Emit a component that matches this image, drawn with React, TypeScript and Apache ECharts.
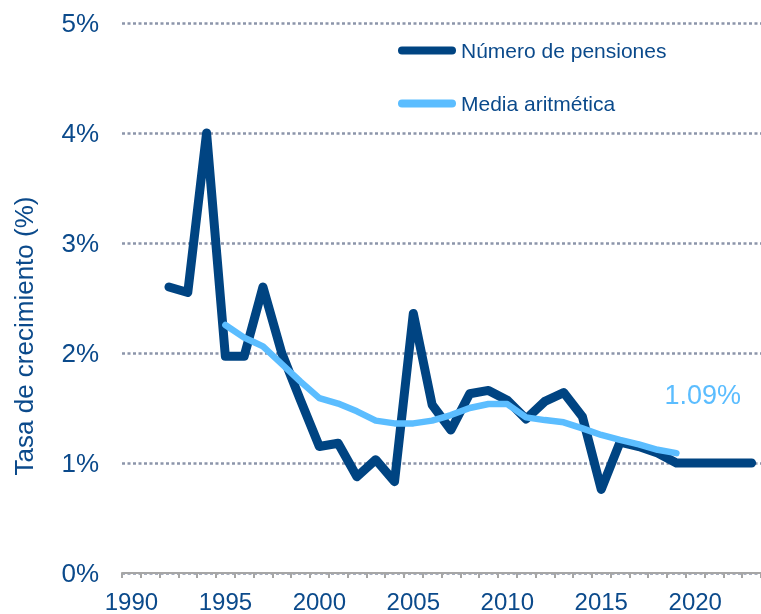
import React, { useEffect, useRef } from "react";
import * as echarts from "echarts";

const years: string[] = [];
for (let y = 1990; y <= 2023; y++) years.push(String(y));

const pensiones: (number | null)[] = [
  null, null, 2.6, 2.55, 4.0, 1.97, 1.97, 2.6, 2.0, 1.57,
  1.15, 1.18, 0.875, 1.03, 0.83, 2.36, 1.53, 1.3, 1.63, 1.66,
  1.57, 1.4, 1.56, 1.64, 1.42, 0.76, 1.19, 1.15, 1.09, 1.0,
  1.0, 1.0, 1.0, 1.0,
];

const media: (number | null)[] = [
  null, null, null, null, null, 2.255, 2.14, 2.06, 1.9, 1.74,
  1.59, 1.54, 1.47, 1.385, 1.36, 1.36, 1.385, 1.436, 1.5, 1.536,
  1.536, 1.415, 1.39, 1.37, 1.315, 1.255, 1.21, 1.17, 1.12, 1.09,
  null, null, null, null,
];

const yTicks = [0, 1, 2, 3, 4, 5];

const DARK = "#004482";
const LIGHT = "#5BBDFF";
const TEXT = "#0B4A8B";
const FONT = "'Liberation Sans', Arial, sans-serif";

export default function App() {
  const ref = useRef<HTMLDivElement>(null);
  useEffect(() => {
    if (!ref.current) return;
    const chart = echarts.init(ref.current, null, { renderer: "svg" });
    chart.setOption({
      animation: false,
      textStyle: { fontFamily: FONT },
      grid: { left: 122, top: 23, width: 640, bottom: 41, containLabel: false },
      legend: {
        orient: "vertical",
        left: 393,
        top: 35,
        itemWidth: 58,
        itemHeight: 8,
        itemGap: 32,
        icon: "path://M4,0 H54 A4,4 0 0 1 54,8 H4 A4,4 0 0 1 4,0 Z",
        textStyle: { color: TEXT, fontSize: 21, fontFamily: FONT, lineHeight: 21 },
        data: ["Número de pensiones", "Media aritmética"],
      },
      xAxis: {
        type: "category",
        data: years,
        boundaryGap: true,
        axisLine: { show: true, lineStyle: { color: "#A6A6A6", width: 2 } },
        axisTick: { show: true, interval: 0, length: 5, lineStyle: { color: "#A6A6A6", width: 2 } },
        axisLabel: { interval: 4, color: TEXT, fontSize: 24, lineHeight: 24, margin: 16, fontFamily: FONT },
        splitLine: { show: false },
      },
      yAxis: {
        type: "value",
        min: yTicks[0],
        max: yTicks[yTicks.length - 1],
        interval: 1,
        axisLine: { show: false },
        axisTick: { show: false },
        axisLabel: { color: TEXT, fontSize: 26, margin: 23, formatter: "{value}%", fontFamily: FONT },
        splitLine: { show: true, lineStyle: { color: "#8C95AA", width: 2.5, type: [3, 2.5] } },
      },
      graphic: [
        {
          type: "text",
          x: 24,
          y: 336,
          rotation: Math.PI / 2,
          style: {
            text: "Tasa de crecimiento (%)",
            fill: TEXT,
            fontSize: 26,
            fontFamily: FONT,
            align: "center",
            verticalAlign: "middle",
          },
        },
      ],
      series: [
        {
          name: "Número de pensiones",
          type: "line",
          data: pensiones,
          showSymbol: false,
          symbol: "none",
          itemStyle: { color: DARK },
          lineStyle: { color: DARK, width: 9, cap: "round", join: "round" },
          z: 2,
        },
        {
          name: "Media aritmética",
          type: "line",
          data: media,
          showSymbol: false,
          symbol: "none",
          itemStyle: { color: LIGHT },
          lineStyle: { color: LIGHT, width: 6.5, cap: "round", join: "round" },
          z: 3,
          endLabel: {
            show: true,
            formatter: (p: any) => Number(p.value).toFixed(2) + "%",
            color: LIGHT,
            fontSize: 27,
            fontFamily: FONT,
            distance: 0,
            offset: [-12, -58],
          },
        },
      ],
    });
    return () => chart.dispose();
  }, []);
  return (
    <div
      ref={ref}
      style={{ position: "fixed", left: 0, top: 0, width: 761, height: 614 }}
    />
  );
}
